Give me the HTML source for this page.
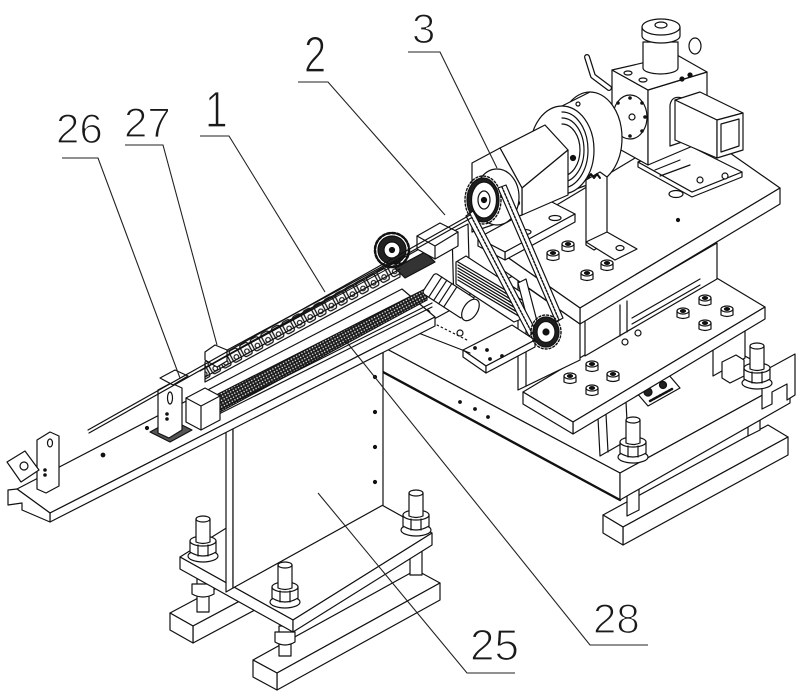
<!DOCTYPE html>
<html><head><meta charset="utf-8"><style>
html,body{margin:0;padding:0;background:#fff;}
svg{display:block;}
text{font-family:"Liberation Sans",sans-serif;fill:#1a1a1a;stroke:#fff;stroke-width:1.3px;}
</style></head><body>
<svg width="800" height="699" viewBox="0 0 800 699" xmlns="http://www.w3.org/2000/svg">
<defs>
<pattern id="links" width="12" height="18" patternUnits="userSpaceOnUse" patternTransform="translate(205,362) rotate(-28.4)">
<rect width="12" height="18" fill="#fff"/>
<rect x="1.5" y="2" width="9" height="13" rx="2.5" fill="none" stroke="#111" stroke-width="1.3"/>
<circle cx="6" cy="10.5" r="2.3" fill="none" stroke="#111" stroke-width="1.2"/>
<path d="M0,5 H12" stroke="#111" stroke-width="1"/>
</pattern>
<pattern id="chain" width="3" height="3" patternUnits="userSpaceOnUse" patternTransform="rotate(-28.4)">
<rect width="3" height="3" fill="#1c1c1c"/><circle cx="1.5" cy="1.5" r="0.7" fill="#fff"/>
</pattern>
<g id="bolt" fill="#fff" stroke="#111" stroke-width="1.2">
<ellipse cx="0" cy="41" rx="15" ry="6"/>
<path d="M-13,26 V37 Q0,45 13,37 V26 Z"/>
<ellipse cx="0" cy="26" rx="13" ry="5"/>
<path d="M-5,30 V41 M5,30 V41" fill="none"/>
<path d="M-7,4 V27 Q0,30 7,27 V4 Z"/>
<ellipse cx="0" cy="4" rx="7" ry="3"/>
</g>
<g id="nut" fill="#fff" stroke="#111" stroke-width="1.2">
<path d="M-6,0 V6 Q0,9 6,6 V0 Z"/>
<ellipse cx="0" cy="0" rx="6" ry="3"/>
<ellipse cx="0" cy="0" rx="2.5" ry="1.4" fill="#111"/>
</g>
</defs>

<g fill="#fff" stroke="#111" stroke-width="1.2" stroke-linejoin="round" stroke-linecap="round">
<!-- right foot -->
<polygon points="603,515 768,425 788,437 623,527"/>
<polygon points="623,527 788,437 788,455 623,545"/>
<polygon points="603,515 623,527 623,545 603,533"/>
<polygon points="627,492 639,486 639,510 627,516"/>
<polygon points="748,400 760,394 760,430 748,436"/>

<!-- base slab 28 -->
<polygon points="383,347 553,254 790,380 620,473"/>
<polygon points="383,347 620,473 620,500 383,372"/>
<polygon points="620,473 790,380 790,403 620,500"/>
<line x1="383" y1="372" x2="620" y2="500" stroke-width="2.4"/>
<circle cx="460" cy="402" r="1.3" fill="#111"/>
<circle cx="475" cy="409" r="1.3" fill="#111"/>
<circle cx="488" cy="417" r="1.3" fill="#111"/>

<!-- right end pieces -->
<polygon points="762,372 795,354 795,395 787,400 787,384 772,392 772,404 762,409"/>
<polygon points="598,418 626,402 628,440 600,456"/>
<path d="M606,414 L608,452" fill="none"/>
<polygon points="713,335 745,317 745,358 713,376"/>
<polygon points="722,362 736,355 744,360 744,376 730,383 722,378"/>
<polygon points="636,392 668,374 680,388 648,406"/>
<circle cx="648" cy="392" r="4" fill="#222"/>
<circle cx="663" cy="385" r="3.5" fill="#222"/>
<path d="M650,401 L672,389" fill="none" stroke-width="2.5" stroke-dasharray="2 1.5"/>
<use href="#bolt" x="633" y="416"/>
<use href="#bolt" x="757" y="342"/>

<!-- middle plate -->
<polygon points="523,392 715,277 765,307 573,422"/>
<polygon points="573,422 765,307 765,319 573,434"/>
<polygon points="523,392 573,422 573,434 523,404"/>
<use href="#nut" x="570" y="376"/>
<use href="#nut" x="592" y="364"/>
<use href="#nut" x="613" y="374"/>
<use href="#nut" x="592" y="388"/>
<use href="#nut" x="683" y="311"/>
<use href="#nut" x="705" y="298"/>
<use href="#nut" x="727" y="309"/>
<use href="#nut" x="705" y="323"/>
<circle cx="625" cy="342" r="3"/>
<circle cx="638" cy="333" r="3"/>

<!-- panel between plates -->
<polygon points="585,320 717,243 717,279 585,356"/>
<path d="M620,305 V336 M627,301 V332" fill="none"/>
<path d="M632,318 L700,279 M632,324 L700,285" fill="none"/>

<!-- frame -->
<polygon points="518,281 580,324 580,360 518,390"/>
<path d="M526,286 V386" fill="none"/>

<!-- lower-left plate -->
<polygon points="463,350 512,325 535,340 486,366"/>
<polygon points="463,350 486,366 486,373 463,357"/>
<polygon points="486,366 535,340 535,347 486,373"/>
<circle cx="475" cy="348" r="1.3" fill="#111"/>
<circle cx="487" cy="350" r="1.3" fill="#111"/>
<circle cx="490" cy="359" r="1.3" fill="#111"/>
<circle cx="502" cy="356" r="1.3" fill="#111"/>
<path d="M403,327 L470,353" fill="none"/>
<path d="M413,313 L467,340" fill="none" stroke-dasharray="1.5 3"/>
<circle cx="427" cy="313" r="3"/>
<circle cx="460" cy="333" r="3"/>

<!-- linear guide -->
<polygon points="452,232 468,224 470,298 454,306"/>
<polygon points="456,262 466,256 524,294 524,318 514,322 456,284"/>
<path d="M458,262 L522,300 M458,265 L522,303 M458,268 L522,306 M458,271 L522,309 M458,274 L522,312 M458,277 L522,315 M458,280 L522,318" fill="none" stroke-width="1.3"/>

<!-- upper plate -->
<polygon points="490,245 690,125 780,188 580,308"/>
<polygon points="580,308 780,188 780,204 580,324"/>
<polygon points="490,245 580,308 580,324 490,261"/>
<use href="#nut" x="568" y="244"/>
<use href="#nut" x="553" y="253"/>
<use href="#nut" x="607" y="263"/>
<use href="#nut" x="587" y="273"/>
<circle cx="678" cy="220" r="1.5" fill="#111"/>

<!-- gearbox -->
<polygon points="638,162 692,192 742,172 742,177 692,197 638,167"/>
<polygon points="638,162 688,145 742,172 692,192"/>
<path d="M655,170 L680,160 M660,176 L690,165" fill="none"/>
<circle cx="700" cy="180" r="3"/>
<circle cx="725" cy="176" r="3"/>
<ellipse cx="676" cy="194" rx="7" ry="3.5"/>
<polygon points="612,70 648,90 648,165 612,145"/>
<polygon points="648,90 707,72 707,140 648,165"/>
<polygon points="612,70 677,55 707,72 648,90"/>
<ellipse cx="628" cy="73" rx="4" ry="2"/>
<ellipse cx="643" cy="80" rx="4" ry="2"/>
<circle cx="682" cy="79" r="2" fill="#111"/>
<circle cx="690" cy="75" r="2" fill="#111"/>
<path d="M643,42 V68 A17.5,6 0 0 0 678,68 V42 Z"/>
<path d="M642,27 V36 A19,7 0 0 0 680,36 V27 Z"/>
<ellipse cx="661" cy="27" rx="19" ry="8"/>
<ellipse cx="661" cy="25" rx="6" ry="3"/>
<ellipse cx="695" cy="46" rx="6" ry="8"/>
<ellipse cx="630" cy="117" rx="17" ry="22"/>
<circle cx="632" cy="117" r="3"/>
<g fill="#111" stroke="none">
<circle cx="630" cy="98" r="1.8"/><circle cx="642" cy="103" r="1.8"/><circle cx="645" cy="117" r="1.8"/><circle cx="642" cy="131" r="1.8"/>
<circle cx="630" cy="136" r="1.8"/><circle cx="618" cy="131" r="1.8"/><circle cx="615" cy="117" r="1.8"/><circle cx="618" cy="103" r="1.8"/>
</g>
<path d="M670,105 Q672,95 682,98 L682,142 L670,146 Z"/>
<polygon points="675,100 700,92 743,113 717,120"/>
<polygon points="675,100 717,120 717,158 675,140"/>
<polygon points="717,120 743,113 743,150 717,158"/>
<polygon points="721,124 739,119 739,146 721,152" fill="none"/>
<path d="M587,57 L593,76 L609,88" fill="none" stroke-width="6"/>
<path d="M587,57 L593,76 L609,88" fill="none" stroke="#fff" stroke-width="3.5"/>

<!-- disc -->
<ellipse cx="590" cy="138" rx="32" ry="46"/>
<polygon points="562,106 590,92 590,184 562,194" stroke="none"/>
<path d="M562,106 L590,92 M562,194 L590,184" fill="none"/>
<ellipse cx="562" cy="150" rx="32" ry="44"/>
<path d="M562,112 A26,38 0 0 1 562,188 M562,118 A22,32 0 0 1 562,182 M562,124 A18,26 0 0 1 562,176" fill="none"/>
<path d="M552,178 l4,-4 l3,5 l3,-5 l3,5 l3,-5" fill="none" stroke-width="2"/>
<circle cx="578" cy="104" r="2"/>

<!-- motor mount -->
<polygon points="478,238 548,200 575,214 505,252"/>
<polygon points="505,252 575,214 575,222 505,260"/>
<polygon points="478,238 505,252 505,260 478,246"/>
<ellipse cx="525" cy="232" rx="6" ry="2.5"/>
<ellipse cx="555" cy="218" rx="6" ry="2.5"/>

<!-- motor body -->
<polygon points="500,148 545,125 568,150 522,188"/>
<polygon points="522,188 568,150 568,195 522,215"/>
<polygon points="472,163 500,148 522,188 522,215 472,232"/>
<circle cx="498" cy="172" r="2.5" fill="#111"/>
<circle cx="517" cy="203" r="2.5" fill="#111"/>
<circle cx="573" cy="158" r="2.5" fill="#111"/>
<ellipse cx="497" cy="197" rx="22" ry="28"/>
<ellipse cx="483" cy="200" rx="18" ry="24" fill="none" stroke-width="1.4" stroke-dasharray="2 2"/>
<ellipse cx="483" cy="200" rx="16" ry="22" fill="#1e1e1e"/>
<ellipse cx="484" cy="200" rx="12.5" ry="18"/>
<ellipse cx="484" cy="200" rx="6" ry="9"/>
<circle cx="484" cy="200" r="2.5" fill="#111"/>

<!-- L bracket -->
<polygon points="586,180 600,172 607,177 607,242 594,250 586,245"/>
<polygon points="586,242 607,232 637,249 615,260"/>
<path d="M588,178 l3,-4 l3,4 l3,-4 l3,4" fill="none" stroke-width="2"/>
<ellipse cx="620" cy="248" rx="4" ry="2.5"/>

<!-- belt -->
<polygon points="518,283 526,279 538,325 530,329"/>
<polygon points="466,216 473,211 536,331 529,336"/>
<polygon points="498,188 506,185 563,318 556,322"/>
<path d="M470,214 L532,333 M502,187 L559,320" fill="none" stroke-width="1.4" stroke-dasharray="2 1.5"/>
<ellipse cx="546" cy="332" rx="15" ry="17" fill="none" stroke-width="1.4" stroke-dasharray="2 2"/>
<ellipse cx="546" cy="332" rx="13" ry="15" fill="#1e1e1e"/>
<ellipse cx="546" cy="332" rx="9" ry="10.5"/>
<circle cx="546" cy="332" r="3" fill="#111"/>

<!-- stand feet and base plate -->
<polygon points="170,613 193,626 300,569 277,556"/>
<polygon points="193,626 300,569 300,586 193,643"/>
<polygon points="170,613 193,626 193,643 170,630"/>
<polygon points="253,660 277,673 440,583 416,570"/>
<polygon points="277,673 440,583 440,600 277,690"/>
<polygon points="253,660 277,673 277,690 253,677"/>
<rect x="197" y="578" width="12" height="34"/>
<path d="M192,584 V594 Q203,600 214,594 V584 Z"/>
<rect x="279" y="626" width="12" height="30"/>
<path d="M275,632 V642 Q285,648 295,642 V632 Z"/>
<rect x="410" y="545" width="12" height="30"/>
<polygon points="180,557 319,470 432,533 293,620"/>
<polygon points="180,557 293,620 293,632 180,569"/>
<polygon points="293,620 432,533 432,545 293,632"/>

<!-- stand 25 -->
<polygon points="226,428 233,425 233,588 226,592"/>
<polygon points="233,425 383,343 383,505 233,588"/>
<circle cx="375" cy="377" r="1.5" fill="#111"/>
<circle cx="375" cy="412" r="1.5" fill="#111"/>
<circle cx="375" cy="447" r="1.5" fill="#111"/>
<circle cx="375" cy="482" r="1.5" fill="#111"/>
<use href="#bolt" x="203" y="515"/>
<use href="#bolt" x="285" y="561"/>
<use href="#bolt" x="416" y="489"/>

<!-- conveyor beam -->
<polygon points="17,489 50,513 435,317 402,289"/>
<polygon points="50,513 435,317 435,326 50,522"/>
<polygon points="8,490 17,489 50,513 50,522 22,510 22,503 8,505"/>
<circle cx="103" cy="455" r="1.8" fill="#111"/>
<circle cx="147" cy="428" r="1.5" fill="#111"/>

<!-- conveyor -->
<polygon points="205,362 400,257 400,277 205,382" fill="url(#links)"/>
<polygon points="218,394 427,288 427,300 218,413" fill="url(#chain)"/>
<path d="M205,417 L432,303 M205,421 L432,307" fill="none"/>
<polygon points="186,398 205,388 220,396 220,420 201,430 186,422"/>
<path d="M186,398 L201,406 L220,396 M201,406 V430" fill="none"/>
<polygon points="150,432 172,420 192,430 170,442" fill="#555"/>
<polygon points="158,390 171,383 182,388 182,430 169,438 158,433"/>
<ellipse cx="170" cy="398" rx="2.5" ry="6"/>
<circle cx="167" cy="414" r="1.2" fill="#111"/>
<circle cx="167" cy="419" r="1.2" fill="#111"/>
<polygon points="160,378 175,370 188,376 173,385"/>
<polygon points="205,352 215,345 227,350 227,361 217,367 205,360"/>
<polygon points="395,268 425,252 435,262 405,278" fill="#333"/>
<circle cx="392" cy="250" r="17" fill="none" stroke-width="2.5" stroke-dasharray="3 2"/>
<circle cx="392" cy="250" r="14" fill="#222"/>
<circle cx="392" cy="250" r="8"/>
<circle cx="392" cy="250" r="2.5" fill="#111"/>
<path d="M200,371 L430,243 M205,377 L400,269" fill="none"/>

<!-- cylinder and rod bracket -->
<g transform="translate(452,298) rotate(33)">
<rect x="-28" y="-12" width="48" height="24" rx="3"/>
<path d="M-20,-12 V12 M-14,-12 V12 M-8,-12 V12 M-2,-12 V12" fill="none"/>
<ellipse cx="22" cy="0" rx="7" ry="12"/>
</g>
<polygon points="417,236 440,223 458,232 458,246 435,259 417,249"/>
<path d="M417,236 L435,246 L458,232 M435,246 V259" fill="none"/>

<!-- rod -->
<path d="M88,430 L470,215 M89,433 L471,218" fill="none"/>

<!-- left end brackets -->
<polygon points="37,440 50,432 59,436 59,486 46,493 37,489"/>
<ellipse cx="50" cy="443" rx="2.5" ry="4"/>
<circle cx="45" cy="470" r="1.2" fill="#111"/>
<circle cx="45" cy="475" r="1.2" fill="#111"/>
<polygon points="7,462 25,451 39,470 21,482"/>
<circle cx="24" cy="466" r="4"/>
</g>

<!-- leaders -->
<g fill="none" stroke="#222" stroke-width="1.1">
<path d="M62,158 H98 L180,378"/>
<path d="M125,145 H163 L217,345"/>
<path d="M200,136 H229 L325,292"/>
<path d="M298,82 H328 L445,215"/>
<path d="M408,52 H440 L497,168"/>
<path d="M515,673 H467 L318,493"/>
<path d="M648,645 H590 L345,340"/>
</g>

<!-- labels -->
<text x="56" y="143" font-size="42">26</text>
<text x="124" y="137" font-size="42">27</text>
<text transform="translate(205,127) scale(0.8,1)" font-size="51">1</text>
<text transform="translate(304,72) scale(0.78,1)" font-size="51">2</text>
<text x="412" y="43" font-size="42">3</text>
<text x="470" y="660" font-size="44">25</text>
<text x="593" y="633" font-size="42">28</text>
</svg>
</body></html>
